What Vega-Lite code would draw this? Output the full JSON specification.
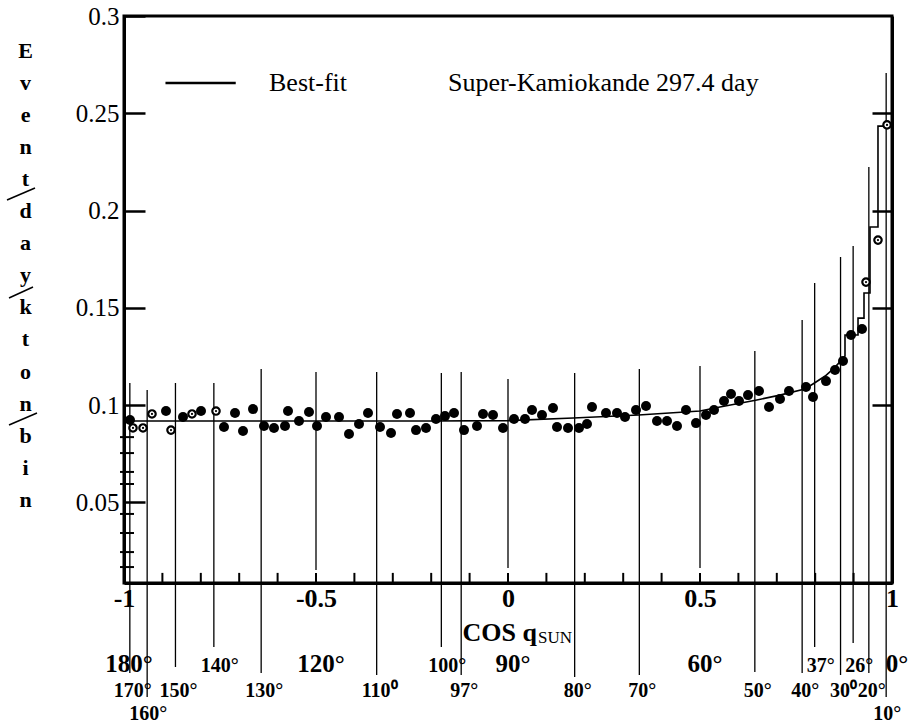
{
  "$schema": "https://vega.github.io/schema/vega-lite/v6.json",
  "width": 768,
  "height": 567,
  "autosize": {"type": "none"},
  "padding": {"left": 124, "top": 16, "right": 18, "bottom": 142},
  "background": "white",
  "config": {
    "view": {"stroke": "black", "strokeWidth": 3},
    "text": {"font": "Liberation Serif", "color": "black"},
    "axisX": {
      "ticks": false, "tickSize": 0, "grid": false,
      "domainColor": "black", "domainWidth": 3,
      "labelFont": "Liberation Serif", "labelFontWeight": "bold", "labelFontSize": 26, "labelColor": "black",
      "labelBaseline": "top", "labelPadding": 2, "labelFlush": false, "labelOverlap": false,
      "titleFont": "Liberation Serif", "titleFontWeight": "bold", "titleFontSize": 26,
      "titleColor": "black", "titleX": 338, "titleY": 57, "titleAlign": "left", "titleBaseline": "alphabetic"
    }
  },
  "datasets": {
    "pts": [
      {"c": -0.9844, "v": 0.0923, "kind": "filled"},
      {"c": -0.9766, "v": 0.0882, "kind": "open"},
      {"c": -0.9505, "v": 0.0882, "kind": "open"},
      {"c": -0.9271, "v": 0.0954, "kind": "open"},
      {"c": -0.8906, "v": 0.0969, "kind": "filled"},
      {"c": -0.8776, "v": 0.0871, "kind": "open"},
      {"c": -0.8464, "v": 0.0938, "kind": "filled"},
      {"c": -0.8229, "v": 0.0954, "kind": "open"},
      {"c": -0.7995, "v": 0.0969, "kind": "filled"},
      {"c": -0.7604, "v": 0.0969, "kind": "open"},
      {"c": -0.7396, "v": 0.0887, "kind": "filled"},
      {"c": -0.7109, "v": 0.0959, "kind": "filled"},
      {"c": -0.6901, "v": 0.0866, "kind": "filled"},
      {"c": -0.6641, "v": 0.0979, "kind": "filled"},
      {"c": -0.6354, "v": 0.0892, "kind": "filled"},
      {"c": -0.6094, "v": 0.0882, "kind": "filled"},
      {"c": -0.5807, "v": 0.0892, "kind": "filled"},
      {"c": -0.5729, "v": 0.0969, "kind": "filled"},
      {"c": -0.5443, "v": 0.0918, "kind": "filled"},
      {"c": -0.5182, "v": 0.0964, "kind": "filled"},
      {"c": -0.4974, "v": 0.0892, "kind": "filled"},
      {"c": -0.4740, "v": 0.0938, "kind": "filled"},
      {"c": -0.4401, "v": 0.0938, "kind": "filled"},
      {"c": -0.4141, "v": 0.0851, "kind": "filled"},
      {"c": -0.3880, "v": 0.0902, "kind": "filled"},
      {"c": -0.3646, "v": 0.0959, "kind": "filled"},
      {"c": -0.3333, "v": 0.0887, "kind": "filled"},
      {"c": -0.3047, "v": 0.0856, "kind": "filled"},
      {"c": -0.2891, "v": 0.0954, "kind": "filled"},
      {"c": -0.2552, "v": 0.0959, "kind": "filled"},
      {"c": -0.2396, "v": 0.0871, "kind": "filled"},
      {"c": -0.2135, "v": 0.0882, "kind": "filled"},
      {"c": -0.1875, "v": 0.0928, "kind": "filled"},
      {"c": -0.1641, "v": 0.0943, "kind": "filled"},
      {"c": -0.1406, "v": 0.0959, "kind": "filled"},
      {"c": -0.1146, "v": 0.0871, "kind": "filled"},
      {"c": -0.0807, "v": 0.0892, "kind": "filled"},
      {"c": -0.0651, "v": 0.0954, "kind": "filled"},
      {"c": -0.0391, "v": 0.0949, "kind": "filled"},
      {"c": -0.0130, "v": 0.0882, "kind": "filled"},
      {"c": 0.0156, "v": 0.0928, "kind": "filled"},
      {"c": 0.0443, "v": 0.0928, "kind": "filled"},
      {"c": 0.0625, "v": 0.0974, "kind": "filled"},
      {"c": 0.0885, "v": 0.0949, "kind": "filled"},
      {"c": 0.1172, "v": 0.0985, "kind": "filled"},
      {"c": 0.1276, "v": 0.0887, "kind": "filled"},
      {"c": 0.1563, "v": 0.0882, "kind": "filled"},
      {"c": 0.1849, "v": 0.0882, "kind": "filled"},
      {"c": 0.2057, "v": 0.0902, "kind": "filled"},
      {"c": 0.2188, "v": 0.0990, "kind": "filled"},
      {"c": 0.2552, "v": 0.0959, "kind": "filled"},
      {"c": 0.2839, "v": 0.0959, "kind": "filled"},
      {"c": 0.3047, "v": 0.0938, "kind": "filled"},
      {"c": 0.3333, "v": 0.0974, "kind": "filled"},
      {"c": 0.3594, "v": 0.0995, "kind": "filled"},
      {"c": 0.3880, "v": 0.0918, "kind": "filled"},
      {"c": 0.4141, "v": 0.0918, "kind": "filled"},
      {"c": 0.4401, "v": 0.0892, "kind": "filled"},
      {"c": 0.4635, "v": 0.0974, "kind": "filled"},
      {"c": 0.4896, "v": 0.0907, "kind": "filled"},
      {"c": 0.5156, "v": 0.0949, "kind": "filled"},
      {"c": 0.5365, "v": 0.0974, "kind": "filled"},
      {"c": 0.5625, "v": 0.1021, "kind": "filled"},
      {"c": 0.5807, "v": 0.1057, "kind": "filled"},
      {"c": 0.6016, "v": 0.1021, "kind": "filled"},
      {"c": 0.6250, "v": 0.1051, "kind": "filled"},
      {"c": 0.6536, "v": 0.1072, "kind": "filled"},
      {"c": 0.6797, "v": 0.0990, "kind": "filled"},
      {"c": 0.7083, "v": 0.1031, "kind": "filled"},
      {"c": 0.7318, "v": 0.1072, "kind": "filled"},
      {"c": 0.7760, "v": 0.1093, "kind": "filled"},
      {"c": 0.7943, "v": 0.1041, "kind": "filled"},
      {"c": 0.8281, "v": 0.1123, "kind": "filled"},
      {"c": 0.8516, "v": 0.1180, "kind": "filled"},
      {"c": 0.8724, "v": 0.1226, "kind": "filled"},
      {"c": 0.8932, "v": 0.1360, "kind": "filled"},
      {"c": 0.9219, "v": 0.1391, "kind": "filled"},
      {"c": 0.9323, "v": 0.1632, "kind": "open"},
      {"c": 0.9635, "v": 0.1848, "kind": "open"},
      {"c": 0.9870, "v": 0.2440, "kind": "open"}
    ],
    "fit": [
      {"i": 0, "c": -1.0, "v": 0.0918},
      {"i": 1, "c": -0.2, "v": 0.0918},
      {"i": 2, "c": 0.0, "v": 0.0920},
      {"i": 3, "c": 0.17, "v": 0.0933},
      {"i": 4, "c": 0.34, "v": 0.0949},
      {"i": 5, "c": 0.5, "v": 0.0969},
      {"i": 6, "c": 0.552, "v": 0.0990},
      {"i": 7, "c": 0.648, "v": 0.1026},
      {"i": 8, "c": 0.708, "v": 0.1051},
      {"i": 9, "c": 0.773, "v": 0.1082},
      {"i": 10, "c": 0.794, "v": 0.1108},
      {"i": 11, "c": 0.826, "v": 0.1149},
      {"i": 12, "c": 0.852, "v": 0.1195},
      {"i": 13, "c": 0.8776, "v": 0.1252},
      {"i": 14, "c": 0.8776, "v": 0.1360},
      {"i": 15, "c": 0.9115, "v": 0.1360},
      {"i": 16, "c": 0.9115, "v": 0.1447},
      {"i": 17, "c": 0.9271, "v": 0.1447},
      {"i": 18, "c": 0.9271, "v": 0.1576},
      {"i": 19, "c": 0.9427, "v": 0.1576},
      {"i": 20, "c": 0.9427, "v": 0.1915},
      {"i": 21, "c": 0.9635, "v": 0.1915},
      {"i": 22, "c": 0.9635, "v": 0.2434},
      {"i": 23, "c": 1.0, "v": 0.2434}
    ],
    "angles": [
      {"deg": 180, "c": -1.0, "top": null, "bottom": null, "tier": "big", "label": "180°"},
      {"deg": 170, "c": -0.9848, "top": 0.1113, "bottom": -0.0378, "tier": "r2", "label": "170°"},
      {"deg": 160, "c": -0.9397, "top": 0.1077, "bottom": -0.0501, "tier": "r3", "label": "160°"},
      {"deg": 150, "c": -0.8660, "top": 0.1113, "bottom": -0.0347, "tier": "r2", "label": "150°"},
      {"deg": 140, "c": -0.7660, "top": 0.1113, "bottom": -0.0244, "tier": "r1", "label": "140°"},
      {"deg": 130, "c": -0.6428, "top": 0.1185, "bottom": -0.0378, "tier": "r2", "label": "130°"},
      {"deg": 120, "c": -0.5, "top": 0.1170, "bottom": 0.0152, "tier": "big", "label": "120°"},
      {"deg": 110, "c": -0.3420, "top": 0.1170, "bottom": -0.0388, "tier": "r2", "label": "110⁰"},
      {"deg": 100, "c": -0.1736, "top": 0.1165, "bottom": -0.0244, "tier": "r1", "label": "100°"},
      {"deg": 97, "c": -0.1219, "top": 0.1170, "bottom": -0.0388, "tier": "r2", "label": "97°"},
      {"deg": 90, "c": 0.0, "top": 0.1134, "bottom": 0.0162, "tier": "big", "label": "90°"},
      {"deg": 80, "c": 0.1736, "top": 0.1165, "bottom": -0.0398, "tier": "r2", "label": "80°"},
      {"deg": 70, "c": 0.3420, "top": 0.1185, "bottom": -0.0388, "tier": "r2", "label": "70°"},
      {"deg": 60, "c": 0.5, "top": 0.1201, "bottom": 0.0162, "tier": "big", "label": "60°"},
      {"deg": 50, "c": 0.6428, "top": 0.1278, "bottom": -0.0373, "tier": "r2", "label": "50°"},
      {"deg": 40, "c": 0.7660, "top": 0.1437, "bottom": -0.0378, "tier": "r2", "label": "40°"},
      {"deg": 37, "c": 0.7986, "top": 0.1627, "bottom": -0.0244, "tier": "r1", "label": "37°"},
      {"deg": 30, "c": 0.8660, "top": 0.1761, "bottom": -0.0388, "tier": "r2", "label": "30⁰"},
      {"deg": 26, "c": 0.8988, "top": 0.1817, "bottom": -0.0224, "tier": "r1", "label": "26°"},
      {"deg": 20, "c": 0.9397, "top": 0.2224, "bottom": -0.0378, "tier": "r2", "label": "20°"},
      {"deg": 10, "c": 0.9848, "top": 0.2707, "bottom": -0.0501, "tier": "r3", "label": "10°"},
      {"deg": 0, "c": 1.0, "top": null, "bottom": null, "tier": "big", "label": "0°"}
    ],
    "xMinor": [
      {"c": -0.9}, {"c": -0.8}, {"c": -0.7}, {"c": -0.6}, {"c": -0.5}, {"c": -0.4}, {"c": -0.3}, {"c": -0.2}, {"c": -0.1},
      {"c": 0.0}, {"c": 0.1}, {"c": 0.2}, {"c": 0.3}, {"c": 0.4}, {"c": 0.5}, {"c": 0.6}, {"c": 0.7}, {"c": 0.8}, {"c": 0.9}
    ],
    "minorTicks": [
      {"v": 0.0835}, {"v": 0.0753}, {"v": 0.0656}, {"v": 0.0594},
      {"v": 0.0440}, {"v": 0.0342}, {"v": 0.0244}, {"v": 0.0167}
    ],
    "slashes": [
      {"xa": -1.3047, "ya": 0.2054, "xb": -1.2318, "yb": 0.2116},
      {"xa": -1.2995, "ya": 0.1550, "xb": -1.2370, "yb": 0.1607},
      {"xa": -1.2995, "ya": 0.0897, "xb": -1.2266, "yb": 0.0959}
    ]
  },
  "resolve": {"axis": {"y": "independent"}},
  "layer": [
    {
      "data": {"name": "angles"},
      "transform": [{"filter": "isValid(datum.top)"}],
      "mark": {"type": "rule", "color": "black", "strokeWidth": 1.3},
      "encoding": {
        "x": {
          "field": "c", "type": "quantitative",
          "scale": {"domain": [-1, 1], "nice": false, "zero": false},
          "axis": {
            "title": "COS q",
            "values": [-1, -0.5, 0, 0.5, 1],
            "format": "~g",
            "labelExpr": "replace(datum.label, '\u2212', '-')"
          }
        },
        "y": {"field": "top", "type": "quantitative", "scale": {"domain": [0.0085, 0.3], "nice": false, "zero": false}, "axis": null},
        "y2": {"field": "bottom"}
      }
    },
    {
      "data": {"name": "xMinor"},
      "mark": {"type": "rule", "color": "black", "strokeWidth": 2},
      "encoding": {
        "x": {"field": "c", "type": "quantitative", "scale": {"domain": [-1, 1], "nice": false, "zero": false}},
        "y": {"datum": 0.0085, "type": "quantitative", "scale": {"domain": [0.0085, 0.3], "nice": false, "zero": false}, "axis": null},
        "y2": {"datum": 0.0137}
      }
    },
    {
      "data": {"name": "fit"},
      "mark": {"type": "line", "color": "black", "strokeWidth": 1.6},
      "encoding": {
        "x": {"field": "c", "type": "quantitative", "scale": {"domain": [-1, 1], "nice": false, "zero": false}},
        "y": {
          "field": "v", "type": "quantitative",
          "scale": {"domain": [0.0085, 0.3], "nice": false, "zero": false},
          "axis": {
            "orient": "right", "values": [0.1, 0.15, 0.2, 0.25], "tickSize": -20, "tickWidth": 2.5,
            "tickColor": "black", "domainColor": "black", "domainWidth": 3, "labels": false,
            "grid": false, "title": null
          }
        },
        "order": {"field": "i", "type": "quantitative"}
      }
    },
    {
      "data": {"name": "pts"},
      "transform": [{"filter": "datum.kind == 'filled'"}],
      "mark": {"type": "circle", "color": "black", "size": 100, "opacity": 1},
      "encoding": {
        "x": {"field": "c", "type": "quantitative", "scale": {"domain": [-1, 1], "nice": false, "zero": false}},
        "y": {
          "field": "v", "type": "quantitative",
          "scale": {"domain": [0.0085, 0.3], "nice": false, "zero": false},
          "axis": {
            "orient": "left", "values": [0.05, 0.1, 0.15, 0.2, 0.25, 0.3], "format": ".2~f",
            "tickSize": -21, "tickWidth": 2.5, "tickColor": "black",
            "domainColor": "black", "domainWidth": 3, "grid": false,
            "labelFont": "Liberation Serif", "labelFontSize": 25, "labelColor": "black",
            "labelPadding": 26, "labelBaseline": "middle", "labelFlush": false, "labelOverlap": false,
            "title": ["E", "v", "e", "n", "t", "d", "a", "y", "k", "t", "o", "n", "b", "i", "n"],
            "titleFont": "Liberation Serif", "titleFontWeight": "bold", "titleFontSize": 22, "titleColor": "black",
            "titleAngle": 0, "titleAlign": "center", "titleBaseline": "alphabetic", "titleLineHeight": 32.1,
            "titleX": -99, "titleY": 41
          }
        }
      }
    },
    {
      "data": {"name": "pts"},
      "transform": [{"filter": "datum.kind == 'open'"}],
      "mark": {"type": "point", "shape": "circle", "filled": true, "fill": "white", "stroke": "black", "strokeWidth": 2.2, "size": 55, "opacity": 1},
      "encoding": {
        "x": {"field": "c", "type": "quantitative", "scale": {"domain": [-1, 1], "nice": false, "zero": false}},
        "y": {"field": "v", "type": "quantitative", "scale": {"domain": [0.0085, 0.3], "nice": false, "zero": false}, "axis": null}
      }
    },
    {
      "data": {"name": "pts"},
      "transform": [{"filter": "datum.kind == 'open'"}],
      "mark": {"type": "circle", "color": "black", "size": 5, "opacity": 1},
      "encoding": {
        "x": {"field": "c", "type": "quantitative", "scale": {"domain": [-1, 1], "nice": false, "zero": false}},
        "y": {"field": "v", "type": "quantitative", "scale": {"domain": [0.0085, 0.3], "nice": false, "zero": false}, "axis": null}
      }
    },
    {
      "data": {"name": "minorTicks"},
      "mark": {"type": "rule", "color": "black", "strokeWidth": 2},
      "encoding": {
        "x": {"datum": -1.0104, "type": "quantitative", "scale": {"domain": [-1, 1], "nice": false, "zero": false}},
        "x2": {"datum": -0.974},
        "y": {"field": "v", "type": "quantitative", "scale": {"domain": [0.0085, 0.3], "nice": false, "zero": false}, "axis": null}
      }
    },
    {
      "data": {"values": [{"series": "Best-fit"}]},
      "mark": {"type": "rule", "color": "black", "strokeWidth": 2.5},
      "encoding": {
        "x": {"datum": -0.892, "type": "quantitative", "scale": {"domain": [-1, 1], "nice": false, "zero": false}},
        "x2": {"datum": -0.709},
        "y": {"datum": 0.2656, "type": "quantitative", "scale": {"domain": [0.0085, 0.3], "nice": false, "zero": false}, "axis": null}
      }
    },
    {
      "data": {"values": [{"t": "Best-fit"}]},
      "mark": {"type": "text", "align": "left", "baseline": "alphabetic", "fontSize": 26, "font": "Liberation Serif", "color": "black"},
      "encoding": {
        "x": {"datum": -0.6224, "type": "quantitative", "scale": {"domain": [-1, 1], "nice": false, "zero": false}},
        "y": {"datum": 0.2614, "type": "quantitative", "scale": {"domain": [0.0085, 0.3], "nice": false, "zero": false}, "axis": null},
        "text": {"field": "t"}
      }
    },
    {
      "data": {"values": [{"t": "Super-Kamiokande 297.4 day"}]},
      "mark": {"type": "text", "align": "left", "baseline": "alphabetic", "fontSize": 26, "font": "Liberation Serif", "color": "black"},
      "encoding": {
        "x": {"datum": -0.1563, "type": "quantitative", "scale": {"domain": [-1, 1], "nice": false, "zero": false}},
        "y": {"datum": 0.2614, "type": "quantitative", "scale": {"domain": [0.0085, 0.3], "nice": false, "zero": false}, "axis": null},
        "text": {"field": "t"}
      }
    },
    {
      "data": {"name": "angles"},
      "transform": [{"filter": "datum.tier == 'big'"}],
      "mark": {"type": "text", "align": "center", "baseline": "alphabetic", "fontSize": 25, "fontWeight": "bold", "font": "Liberation Serif", "color": "black", "dx": 5},
      "encoding": {
        "x": {"field": "c", "type": "quantitative", "scale": {"domain": [-1, 1], "nice": false, "zero": false}},
        "y": {"datum": -0.0373, "type": "quantitative", "scale": {"domain": [0.0085, 0.3], "nice": false, "zero": false}, "axis": null},
        "text": {"field": "label"}
      }
    },
    {
      "data": {"name": "angles"},
      "transform": [{"filter": "datum.tier == 'r1'"}],
      "mark": {"type": "text", "align": "center", "baseline": "alphabetic", "fontSize": 20, "fontWeight": "bold", "font": "Liberation Serif", "color": "black", "dx": 6},
      "encoding": {
        "x": {"field": "c", "type": "quantitative", "scale": {"domain": [-1, 1], "nice": false, "zero": false}},
        "y": {"datum": -0.0373, "type": "quantitative", "scale": {"domain": [0.0085, 0.3], "nice": false, "zero": false}, "axis": null},
        "text": {"field": "label"}
      }
    },
    {
      "data": {"name": "angles"},
      "transform": [{"filter": "datum.tier == 'r2'"}],
      "mark": {"type": "text", "align": "center", "baseline": "alphabetic", "fontSize": 20, "fontWeight": "bold", "font": "Liberation Serif", "color": "black", "dx": 3},
      "encoding": {
        "x": {"field": "c", "type": "quantitative", "scale": {"domain": [-1, 1], "nice": false, "zero": false}},
        "y": {"datum": -0.0501, "type": "quantitative", "scale": {"domain": [0.0085, 0.3], "nice": false, "zero": false}, "axis": null},
        "text": {"field": "label"}
      }
    },
    {
      "data": {"name": "angles"},
      "transform": [{"filter": "datum.tier == 'r3'"}],
      "mark": {"type": "text", "align": "center", "baseline": "alphabetic", "fontSize": 20, "fontWeight": "bold", "font": "Liberation Serif", "color": "black", "dx": 1},
      "encoding": {
        "x": {"field": "c", "type": "quantitative", "scale": {"domain": [-1, 1], "nice": false, "zero": false}},
        "y": {"datum": -0.0620, "type": "quantitative", "scale": {"domain": [0.0085, 0.3], "nice": false, "zero": false}, "axis": null},
        "text": {"field": "label"}
      }
    },
    {
      "data": {"values": [{"t": "SUN"}]},
      "mark": {"type": "text", "align": "left", "baseline": "alphabetic", "fontSize": 17, "font": "Liberation Serif", "color": "black"},
      "encoding": {
        "x": {"datum": 0.0781, "type": "quantitative", "scale": {"domain": [-1, 1], "nice": false, "zero": false}},
        "y": {"datum": -0.0224, "type": "quantitative", "scale": {"domain": [0.0085, 0.3], "nice": false, "zero": false}, "axis": null},
        "text": {"field": "t"}
      }
    },
    {
      "data": {"name": "slashes"},
      "mark": {"type": "rule", "color": "black", "strokeWidth": 1.5},
      "encoding": {
        "x": {"field": "xa", "type": "quantitative", "scale": {"domain": [-1, 1], "nice": false, "zero": false}},
        "x2": {"field": "xb"},
        "y": {"field": "ya", "type": "quantitative", "scale": {"domain": [0.0085, 0.3], "nice": false, "zero": false}, "axis": null},
        "y2": {"field": "yb"}
      }
    }
  ]
}
